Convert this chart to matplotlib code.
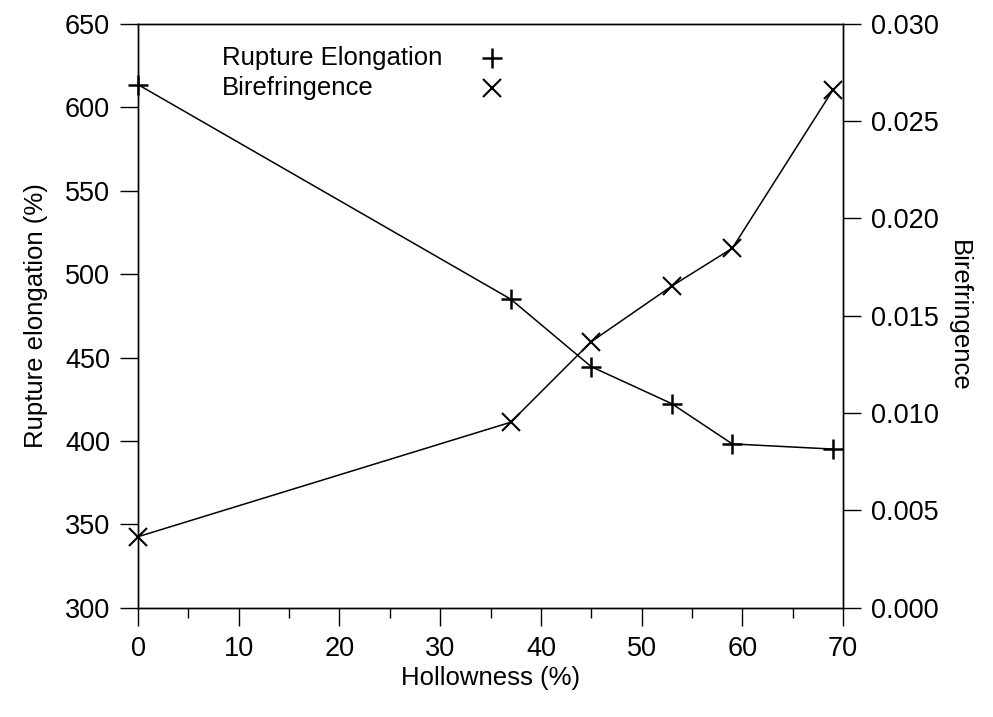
import matplotlib
matplotlib.use("Agg")
import matplotlib.pyplot as plt
from matplotlib.ticker import MultipleLocator, FormatStrFormatter

plt.rcParams['font.family'] = ['Liberation Sans', 'DejaVu Sans']

hollowness = [0, 37, 45, 53, 59, 69]
rupture_elongation = [613.6, 485.0, 444.5, 422.3, 398.2, 395.1]
birefringence = [0.00365, 0.00953, 0.01367, 0.01653, 0.01847, 0.02661]
legend_labels = ['Rupture Elongation', 'Birefringence']

fig = plt.figure(figsize=(9.93, 7.17), dpi=100)
ax = fig.add_axes([0.139, 0.1524, 0.710, 0.8143])
ax2 = ax.twinx()

lw = 1.1
plus_kw = dict(marker='+', markersize=15, markeredgewidth=1.8)
x_kw = dict(marker='x', markersize=13, markeredgewidth=1.5)
ax.plot(hollowness, rupture_elongation, color='black', linewidth=lw,
        clip_on=False, zorder=5, **plus_kw)
ax2.plot(hollowness, birefringence, color='black', linewidth=lw,
         clip_on=False, zorder=5, **x_kw)

ax.set_xlim(0, 70)
ax.set_ylim(300, 650)
ax2.set_ylim(0.0, 0.030)
ax.xaxis.set_major_locator(MultipleLocator(10))
ax.xaxis.set_minor_locator(MultipleLocator(5))
ax.yaxis.set_major_locator(MultipleLocator(50))
ax2.yaxis.set_major_locator(MultipleLocator(0.005))
ax2.yaxis.set_major_formatter(FormatStrFormatter('%.3f'))

for a in (ax, ax2):
    for s in a.spines.values():
        s.set_linewidth(1.0)
tick_fs = 19.5
ax.tick_params(axis='both', which='major', direction='out', length=13, width=1.0,
               labelsize=tick_fs, pad=7)
ax.tick_params(axis='x', which='minor', direction='out', length=7, width=1.0)
ax2.tick_params(axis='y', which='major', direction='out', length=13, width=1.0,
                labelsize=tick_fs, pad=7)

lab_fs = 18.5
ax.set_xlabel('Hollowness (%)', fontsize=lab_fs, labelpad=3)
ax.set_ylabel('Rupture elongation (%)', fontsize=lab_fs, labelpad=12)
ax2.set_ylabel('Birefringence', fontsize=lab_fs, rotation=270, labelpad=23)

# legend (text left-aligned, markers to the right)
tx = (222 - 138) / 705.0
mx = (492 - 138) / 705.0
ys = [1 - (58 - 24) / 584.0, 1 - (88 - 24) / 584.0]
kws = [plus_kw, x_kw]
for lab, yy, kw in zip(legend_labels, ys, kws):
    ax.text(tx, yy, lab, transform=ax.transAxes, fontsize=lab_fs,
            ha='left', va='center')
    ax.plot([mx], [yy], transform=ax.transAxes, color='black',
            linestyle='none', clip_on=False, **kw)

fig.savefig('out.png', dpi=100)
